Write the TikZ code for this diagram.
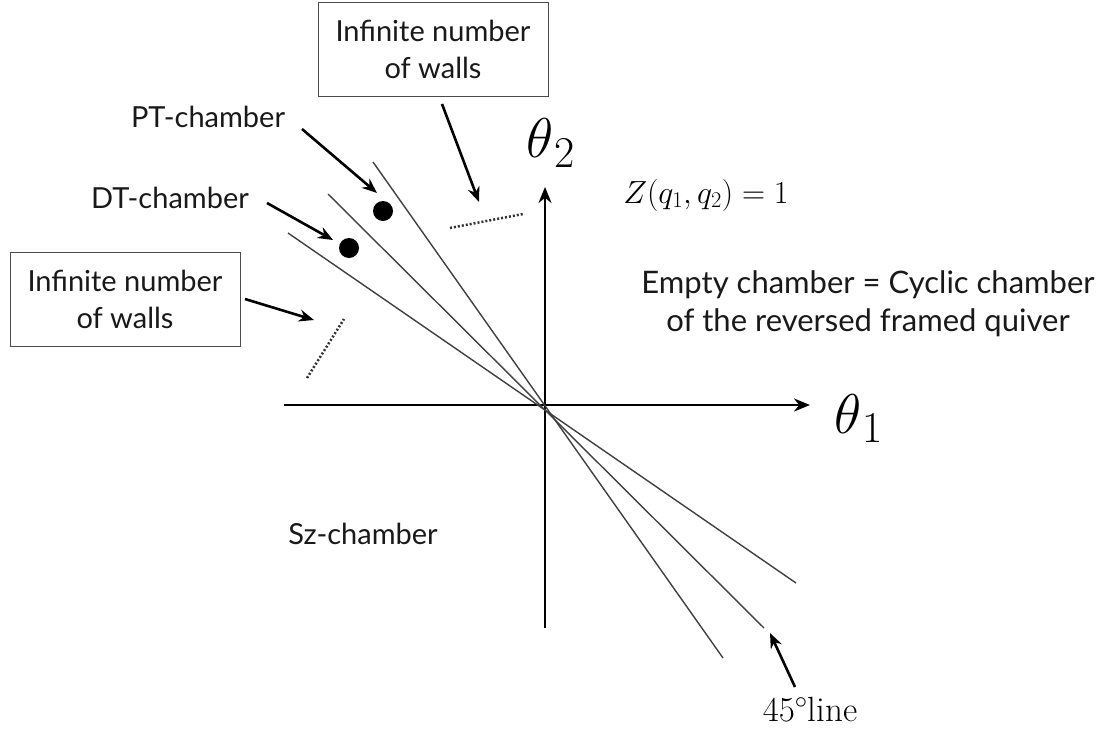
\RequirePackage{fix-cm}
\documentclass[tikz,border=0pt]{standalone}
\usepackage[no-math]{fontspec}
\newfontfamily\gs{Lato}
\usetikzlibrary{arrows.meta}
\begin{document}
\begin{tikzpicture}[x=1pt,y=-1pt,
  lbl/.style={font=\gs\fontsize{29}{37}\selectfont, inner sep=0pt, align=center, text=black!90},
  boxed/.style={lbl, draw=black!70, line width=1pt, minimum width=230pt, minimum height=94pt},
  wall/.style={draw=black!75, line width=1.4pt},
  axis/.style={line width=2.6pt, -{Stealth[length=16pt,width=13pt]}},
  pointer/.style={line width=2.6pt, -{Stealth[length=15pt,width=12pt]}},
  dotted wall/.style={line width=2.5pt, dash pattern=on 2pt off 2pt, black!80},
  chamberdot/.style={circle, fill=black, inner sep=0pt, minimum size=20pt},
  axislabel/.style={inner sep=0pt, anchor=base west}
]
\useasboundingbox (0,0) rectangle (1099,731);
% origin and axis ends
\coordinate (O) at (545,405);
\coordinate (xl) at (284,405);
\coordinate (xr) at (810,405);
\coordinate (yb) at (545,628);
\coordinate (yt) at (545,187);
\draw[axis] (xl) -- (xr);
\draw[axis] (yb) -- (yt);
% walls through origin
\coordinate (a1) at (373,162); \coordinate (a2) at (723,658);
\coordinate (b1) at (328,194); \coordinate (b2) at (764,628);
\coordinate (c1) at (288,233); \coordinate (c2) at (796,583);
\draw[wall] (a1) -- (a2);
\draw[wall] (b1) -- (b2);
\draw[wall] (c1) -- (c2);
% axis labels
\node[axislabel] (th2) at (526,157) {\fontsize{56}{56}\selectfont$\theta$\kern1pt\raisebox{-10pt}{\fontsize{44}{44}\selectfont 2}};
\node[axislabel] (th1) at (834,433) {\fontsize{56}{56}\selectfont$\theta$\kern1pt\raisebox{-9pt}{\fontsize{44}{44}\selectfont 1}};
% chamber dots
\node[chamberdot] (pt) at (383,211) {};
\node[chamberdot] (dt) at (349,248) {};
% dotted walls
\coordinate (d1) at (450,228); \coordinate (d2) at (523,214);
\coordinate (e1) at (307,378); \coordinate (e2) at (344,319);
\draw[dotted wall] (d1) -- (d2);
\draw[dotted wall] (e1) -- (e2);
% boxes
\node[boxed] (boxtop) at (433,49) {Infinite number\\of walls};
\node[boxed] (boxleft) at (125,299) {Infinite number\\of walls};
% labels
\node[lbl] (ptlab) at (208,117) {PT-chamber};
\node[lbl] (dtlab) at (170,198) {DT-chamber};
\node[lbl] (szlab) at (363,534) {Sz-chamber};
\node[lbl, font=\gs\fontsize{31}{38}\selectfont] (empty) at (868,304) {Empty chamber = Cyclic chamber\\of the reversed framed quiver};
\node[inner sep=0pt] (zlab) at (706,195) {\fontsize{32}{32}\selectfont$Z(q_1,q_2)=1$};
\node[inner sep=0pt] (deg) at (810,709) {\fontsize{35}{35}\selectfont$45^\circ$line};
% pointers
\coordinate (tipTop) at (479,202);
\coordinate (tipPT) at (377,193);
\coordinate (tipDT) at (333,240);
\coordinate (tipLeft) at (314,320);
\coordinate (tipDeg) at (770,633);
\draw[pointer] (442,104) -- (tipTop);
\draw[pointer] (302,129) -- (tipPT);
\draw[pointer] (267,203) -- (tipDT);
\draw[pointer] (245,299) -- (tipLeft);
\draw[pointer] (795,687) -- (tipDeg);
\end{tikzpicture}
\end{document}
